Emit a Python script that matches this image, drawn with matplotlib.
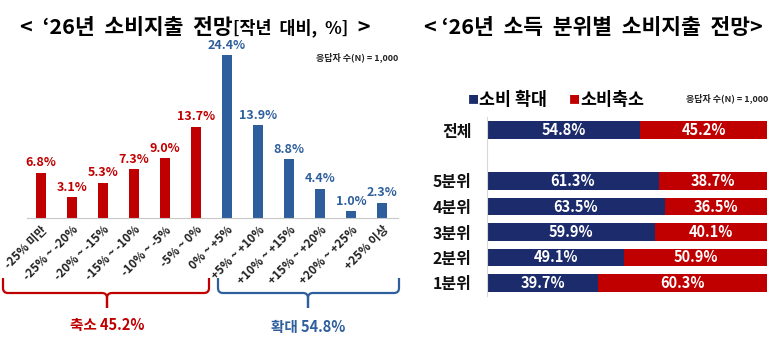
import numpy as np
import matplotlib
matplotlib.use("Agg")
from matplotlib import pyplot as plt
from matplotlib.path import Path
from matplotlib.patches import PathPatch

plt.rcParams['font.family'] = ['Noto Sans CJK KR', 'DejaVu Sans']

# left chart data
ranges = ["-25% 미만", "-25% ~ -20%", "-20% ~ -15%", "-15% ~ -10%", "-10% ~ -5%", "-5% ~ 0%",
          "0% ~ +5%", "+5% ~ +10%", "+10% ~ +15%", "+15% ~ +20%", "+20% ~ +25%", "+25% 이상"]
shrink_vals = [6.8, 3.1, 5.3, 7.3, 9.0, 13.7]
expand_vals = [24.4, 13.9, 8.8, 4.4, 1.0, 2.3]

# right chart data
groups = ["1분위", "2분위", "3분위", "4분위", "5분위", "전체"]
group_pos = [0, 1, 2, 3, 4, 6]
expand_share = [39.7, 49.1, 59.9, 63.5, 61.3, 54.8]
shrink_share = [60.3, 50.9, 40.1, 36.5, 38.7, 45.2]

RED = "#C00000"
BLUE = "#2E5F9C"
NAVY = "#1C2B6B"

fig = plt.figure(figsize=(7.76, 3.5), dpi=100)

# ---- left: distribution bars
ax1 = fig.add_axes([27/776, 132/350, 371/776, 180/350])
vals = shrink_vals + expand_vals
cols = [RED]*len(shrink_vals) + [BLUE]*len(expand_vals)
x = np.arange(len(vals))
ax1.bar(x, vals, width=0.33, color=cols)
for xi, v, c in zip(x, vals, cols):
    ax1.text(xi, v + 0.5, f"{v:.1f}%", ha='center', va='bottom', color=c,
             fontsize=9, fontweight='bold')
ax1.set_xlim(-0.45, 11.52)
ax1.set_ylim(0, 27)
ax1.set_yticks([])
ax1.set_xticks(x)
ax1.set_xticklabels(ranges, rotation=45, ha='right', va='top', rotation_mode='anchor',
                    fontsize=8.5, fontweight='bold', color='#222222')
ax1.tick_params(axis='x', length=0, pad=4)
for s in ['top', 'right', 'left']:
    ax1.spines[s].set_visible(False)
ax1.spines['bottom'].set_color('#C8C8C8')
ax1.patch.set_alpha(0)

# ---- right: stacked horizontal bars
ax2 = fig.add_axes([487/776, 54.25/350, 280/776, 178.5/350])
ax2.barh(group_pos, expand_share, height=0.67, color=NAVY)
ax2.barh(group_pos, shrink_share, left=expand_share, height=0.67, color=RED)
for p, a, b in zip(group_pos, expand_share, shrink_share):
    ax2.text(a/2, p, f"{a:.1f}%", ha='center', va='center', color='white',
             fontsize=10.5, fontweight='bold')
    ax2.text(a + b/2, p, f"{b:.1f}%", ha='center', va='center', color='white',
             fontsize=10.5, fontweight='bold')
ax2.set_xlim(0, 100)
ax2.set_ylim(-0.5, 6.5)
ax2.set_xticks([])
ax2.set_yticks(group_pos)
ax2.set_yticklabels(groups, fontsize=11.5, fontweight='bold', color='#111111')
ax2.tick_params(axis='y', length=0, pad=11)
for s in ['top', 'right', 'bottom']:
    ax2.spines[s].set_visible(False)
ax2.spines['left'].set_color('#D8D8D8')

# ---- overlay in pixel coordinates for titles, braces, notes
ov = fig.add_axes([0, 0, 1, 1])
ov.set_xlim(0, 776)
ov.set_ylim(350, 0)
ov.axis('off')
ov.patch.set_alpha(0)

t = ov.text(20, 28, "<  ‘26년  소비지출  전망", fontsize=15.5, fontweight='bold', va='center')
t = ov.annotate("[작년  대비,  %]", xy=(1, 0.5), xycoords=t, va='center', fontsize=12.5, fontweight='bold')
ov.annotate("  >", xy=(1, 0.5), xycoords=t, va='center', fontsize=15.5, fontweight='bold')
ov.text(424, 28, "< ‘26년  소득  분위별  소비지출  전망>", fontsize=15.5, fontweight='bold', va='center')

ov.text(398, 57, "응답자 수(N) = 1,000", ha='right', va='center', fontsize=6.5, fontweight='bold', color='#222222')
ov.text(768, 98, "응답자 수(N) = 1,000", ha='right', va='center', fontsize=6.5, fontweight='bold', color='#222222')

m = ov.text(468, 100, "■", color=NAVY, fontsize=8, va='center')
ov.annotate("소비 확대", xy=(1, 0.5), xycoords=m, va='center', fontsize=12.5, fontweight='bold')
m = ov.text(569, 100, "■", color=RED, fontsize=8, va='center')
ov.annotate("소비축소", xy=(1, 0.5), xycoords=m, va='center', fontsize=12.5, fontweight='bold')


def brace(x0, x1, xc, color):
    top, mid, tip, r = 278, 293, 308, 5
    verts = [(x0, top), (x0, mid - r), (x0, mid), (x0 + r, mid), (xc - r, mid), (xc, mid), (xc, mid + r),
             (xc, tip), (xc, mid + r), (xc, mid), (xc + r, mid), (x1 - r, mid), (x1, mid), (x1, mid - r), (x1, top)]
    codes = [Path.MOVETO, Path.LINETO, Path.CURVE3, Path.CURVE3, Path.LINETO, Path.CURVE3, Path.CURVE3,
             Path.LINETO, Path.LINETO, Path.CURVE3, Path.CURVE3, Path.LINETO, Path.CURVE3, Path.CURVE3, Path.LINETO]
    ov.add_patch(PathPatch(Path(verts, codes), fill=False, edgecolor=color, lw=1.6))


brace(3, 209, 107, RED)
brace(218, 399, 308, BLUE)
ov.text(107, 325, "축소 45.2%", ha='center', va='center', color=RED, fontsize=10.5, fontweight='bold')
ov.text(308, 327, "확대 54.8%", ha='center', va='center', color=BLUE, fontsize=10.5, fontweight='bold')

fig.savefig("out.png", dpi=100)
